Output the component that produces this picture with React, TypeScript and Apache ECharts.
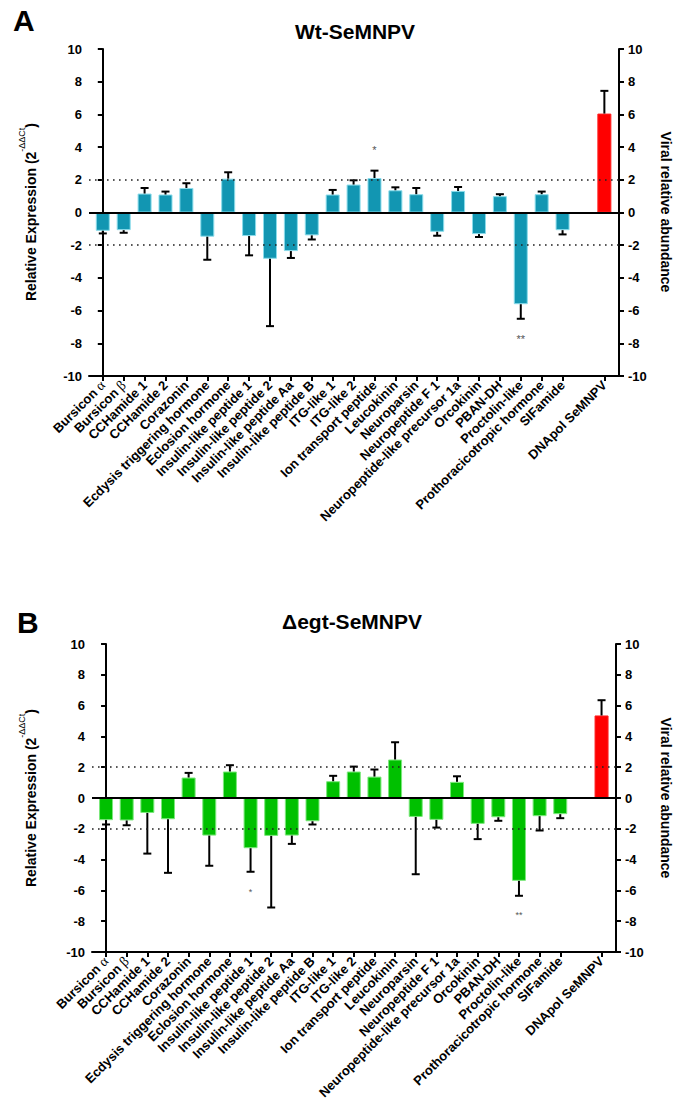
import React, { useEffect, useRef } from "react";
import * as echarts from "echarts";

const genes = [
  "Bursicon α", "Bursicon β", "CCHamide 1", "CCHamide 2", "Corazonin",
  "Ecdysis triggering hormone", "Eclosion hormone", "Insulin-like peptide 1",
  "Insulin-like peptide 2", "Insulin-like peptide Aa", "Insulin-like peptide B",
  "ITG-like 1", "ITG-like 2", "Ion transport peptide", "Leucokinin", "Neuroparsin",
  "Neuropeptide F 1", "Neuropeptide-like precursor 1a", "Orcokinin", "PBAN-DH",
  "Proctolin-like", "Prothoracicotropic hormone", "SIFamide",
];
const viralGene = "DNApol SeMNPV";

// Panel A: Wt-SeMNPV
const wtValues = [-1.12, -1.08, 1.16, 1.10, 1.50, -1.48, 2.07, -1.44, -2.83, -2.36, -1.40, 1.10, 1.71, 2.11, 1.36, 1.12, -1.18, 1.32, -1.32, 1.00, -5.61, 1.12, -1.08];
const wtErrors = [0.16, 0.16, 0.34, 0.18, 0.29, 1.41, 0.39, 1.18, 4.12, 0.42, 0.25, 0.28, 0.26, 0.45, 0.18, 0.38, 0.24, 0.24, 0.18, 0.12, 0.89, 0.16, 0.26];
const wtViral = 6.05;
const wtViralError = 1.39;
const wtSignificance = [
  { gene: "Ion transport peptide", y: 3.8, mark: "*" },
  { gene: "Proctolin-like", y: -7.75, mark: "**" },
];

// Panel B: Δegt-SeMNPV
const egtValues = [-1.44, -1.46, -0.97, -1.38, 1.33, -2.44, 1.72, -3.26, -2.46, -2.44, -1.51, 1.09, 1.72, 1.39, 2.50, -1.23, -1.42, 1.05, -1.68, -1.25, -5.38, -1.18, -1.05];
const egtErrors = [0.28, 0.31, 2.64, 3.48, 0.30, 1.96, 0.41, 1.53, 4.65, 0.54, 0.21, 0.35, 0.32, 0.46, 1.12, 3.72, 0.50, 0.36, 0.99, 0.23, 0.97, 0.93, 0.26];
const egtViral = 5.36;
const egtViralError = 0.99;
const egtSignificance = [
  { gene: "Insulin-like peptide 1", y: -6.1, mark: "*" },
  { gene: "Proctolin-like", y: -7.6, mark: "**" },
];

const thresholds = [2, -2];
const yTicks = { min: -10, max: 10, interval: 2 };

const allNames = [...genes, "", viralGene];
const tickPositions = [...genes.map((_, i) => i), genes.length + 1];
const FONT = "Liberation Sans, Arial, sans-serif";

function buildPanel(p: number, values: number[], errors: number[], viral: number, viralErr: number,
  color: string, border: string, sig: { gene: string; y: number; mark: string }[], starSize: number) {
  const vIdx = genes.length + 1;
  const barData: any[] = values.map((v, i) => [i, v]);
  barData.push({ value: [vIdx, viral], itemStyle: { color: "#FF0000", borderColor: "#FF2020" } });
  const errData = values.map((v, i) => [i, v, v + Math.sign(v) * errors[i]]);
  errData.push([vIdx, viral, viral + viralErr]);
  const starData = sig.map((s) => [genes.indexOf(s.gene), s.y, s.mark]);
  return [
    {
      type: "bar", xAxisIndex: p, yAxisIndex: 2 * p, barWidth: 14, data: barData,
      itemStyle: { color, borderColor: border, borderWidth: 1 },
      markLine: {
        silent: true, symbol: "none", label: { show: false }, animation: false,
        data: [
          ...thresholds.map((t) => ({ yAxis: t, lineStyle: { type: [1.6, 4.4], width: 1.6, color: "#222" } })),
          { yAxis: 0, lineStyle: { type: "solid", width: 2, color: "#000" } },
        ],
      },
    },
    {
      type: "custom", xAxisIndex: p, yAxisIndex: 2 * p, data: errData, z: 3,
      renderItem: (params: any, api: any) => {
        const x = api.value(0);
        const a = api.coord([x, api.value(1)]);
        const b = api.coord([x, api.value(2)]);
        const st = { stroke: "#000", lineWidth: 2 };
        return {
          type: "group",
          children: [
            { type: "line", shape: { x1: a[0], y1: a[1], x2: b[0], y2: b[1] }, style: st },
            { type: "line", shape: { x1: b[0] - 4, y1: b[1], x2: b[0] + 4, y2: b[1] }, style: st },
          ],
        };
      },
    },
    {
      type: "custom", xAxisIndex: p, yAxisIndex: 2 * p, data: starData, z: 4,
      renderItem: (params: any, api: any) => {
        const c = api.coord([api.value(0), api.value(1)]);
        return {
          type: "text", x: c[0], y: c[1],
          style: { text: sig[params.dataIndex].mark, fill: "#555", fontSize: starSize, fontFamily: FONT, align: "center", verticalAlign: "middle" },
        };
      },
    },
  ];
}

function xAxisFor(p: number, min: number, max: number) {
  return {
    type: "value", gridIndex: p, min, max, position: "bottom",
    axisLine: { show: true, onZero: false, lineStyle: { color: "#000", width: 2 } },
    splitLine: { show: false },
    axisTick: { show: true, customValues: tickPositions, length: 5, lineStyle: { color: "#000", width: 2 } },
    axisLabel: {
      show: true, customValues: tickPositions, rotate: 45, margin: 7,
      fontFamily: FONT, fontWeight: "bold", fontSize: 13, color: "#000",
      formatter: (v: number) => {
        const n = allNames[Math.round(v)] || "";
        return n.replace("α", "{g|α}").replace("β", "{g|β}");
      },
      rich: { g: { fontFamily: "Liberation Serif, serif", fontWeight: "normal", fontSize: 14, color: "#000" } },
    },
  };
}

function yAxisFor(p: number, position: "left" | "right") {
  return {
    type: "value", gridIndex: p, position, ...yTicks,
    axisLine: { show: true, lineStyle: { color: "#000", width: 2 } },
    splitLine: { show: false },
    axisTick: { show: true, length: 5, lineStyle: { color: "#000", width: 2 } },
    axisLabel: { margin: position === "left" ? 7 : 9, fontFamily: FONT, fontWeight: "bold", fontSize: 13, color: "#000" },
  };
}

function leftName(y: number) {
  return {
    type: "text", x: 27.5, y, rotation: Math.PI / 2,
    style: {
      text: "{b|Relative Expression (2}{s|-ΔΔCt}{b|)}",
      align: "center", verticalAlign: "middle",
      rich: {
        b: { fontFamily: FONT, fontWeight: "bold", fontSize: 14, color: "#000", lineHeight: 20, verticalAlign: "bottom" },
        s: { fontFamily: FONT, fontSize: 9, color: "#000", lineHeight: 20, verticalAlign: "top" },
      },
    },
  };
}

function rightName(y: number) {
  return {
    type: "text", x: 666, y, rotation: -Math.PI / 2,
    style: { text: "Viral relative abundance", fontFamily: FONT, fontWeight: "bold", fontSize: 14, fill: "#000", align: "center", verticalAlign: "middle" },
  };
}

export default function App() {
  const ref = useRef<HTMLDivElement>(null);
  useEffect(() => {
    document.body.style.margin = "0";
    if (!ref.current) return;
    const chart = echarts.init(ref.current, undefined, { renderer: "svg" });
    chart.setOption({
      animation: false,
      backgroundColor: "#fff",
      textStyle: { fontFamily: FONT },
      grid: [
        { left: 89, top: 49, width: 530, height: 327 },
        { left: 92, top: 644, width: 524, height: 308 },
      ],
      xAxis: [xAxisFor(0, -0.66, 24.7), xAxisFor(1, -0.68, 24.7)],
      yAxis: [yAxisFor(0, "left"), yAxisFor(0, "right"), yAxisFor(1, "left"), yAxisFor(1, "right")],
      series: [
        ...buildPanel(0, wtValues, wtErrors, wtViral, wtViralError, "#1296B2", "#8ADCEB", wtSignificance, 11),
        ...buildPanel(1, egtValues, egtErrors, egtViral, egtViralError, "#00C000", "#7CE87C", egtSignificance, 9),
      ],
      graphic: [
        { type: "text", x: 13, y: 20, style: { text: "A", fontFamily: FONT, fontWeight: "bold", fontSize: 30, fill: "#000", align: "left", verticalAlign: "middle" } },
        { type: "text", x: 17, y: 622, style: { text: "B", fontFamily: FONT, fontWeight: "bold", fontSize: 30, fill: "#000", align: "left", verticalAlign: "middle" } },
        { type: "text", x: 355, y: 31, style: { text: "Wt-SeMNPV", fontFamily: FONT, fontWeight: "bold", fontSize: 21, fill: "#000", align: "center", verticalAlign: "middle" } },
        { type: "text", x: 352, y: 621, style: { text: "Δegt-SeMNPV", fontFamily: FONT, fontWeight: "bold", fontSize: 21, fill: "#000", align: "center", verticalAlign: "middle" } },
        leftName(212), leftName(798), rightName(212), rightName(798),
      ],
    });
    return () => chart.dispose();
  }, []);
  return <div ref={ref} style={{ width: 675, height: 1107 }} />;
}
